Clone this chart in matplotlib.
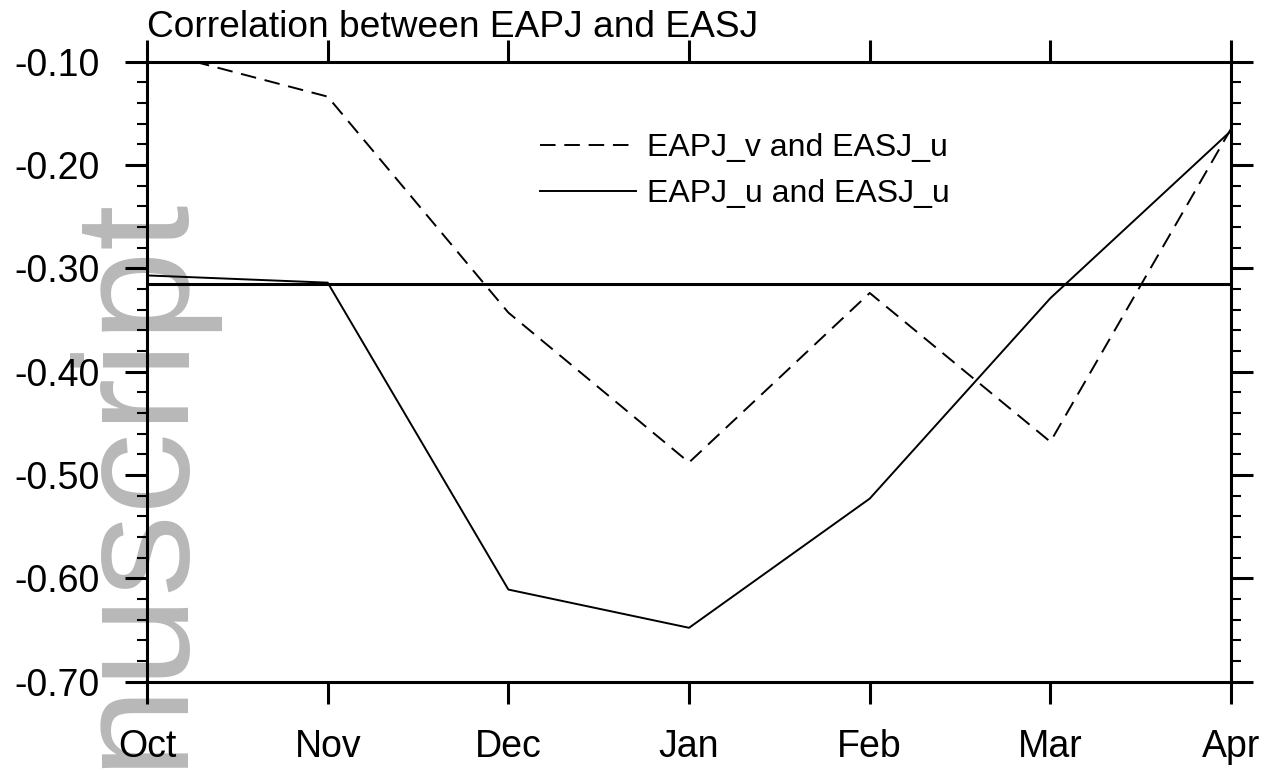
import numpy as np
import matplotlib
matplotlib.use('Agg')
import matplotlib.pyplot as plt
from matplotlib.ticker import MultipleLocator, FormatStrFormatter

plt.rcParams['font.family'] = ['Liberation Sans', 'DejaVu Sans']

# data
months = ['Oct', 'Nov', 'Dec', 'Jan', 'Feb', 'Mar', 'Apr']
corr_v_u = [-0.088, -0.134, -0.343, -0.488, -0.324, -0.468, -0.165]
corr_u_u = [-0.307, -0.314, -0.611, -0.648, -0.523, -0.329, -0.167]
sig_level = -0.315
title = 'Correlation between EAPJ and EASJ'
labels = ['EAPJ_v and EASJ_u', 'EAPJ_u and EASJ_u']

fig = plt.figure(figsize=(12.74, 7.70), dpi=100)
ax = fig.add_axes([0.1154, 0.1149, 0.8509, 0.8052])
ax.patch.set_visible(False)

x = np.arange(len(months))
l1, = ax.plot(x, corr_v_u, color='black', lw=1.4, dashes=(8, 4.5))
l2, = ax.plot(x, corr_u_u, color='black', lw=1.4)
ax.axhline(sig_level, color='black', lw=2.2)

ax.set_xlim(0, len(months) - 1)
ax.set_ylim(-0.70, -0.10)
ax.set_xticks(x)
ax.set_xticklabels(months)
ax.yaxis.set_major_locator(MultipleLocator(0.1))
ax.yaxis.set_minor_locator(MultipleLocator(0.02))
ax.yaxis.set_major_formatter(FormatStrFormatter('%.2f'))

for s in ax.spines.values():
    s.set_linewidth(2.2)

ax.tick_params(axis='both', which='major', direction='out', length=16, width=2.2,
               labelsize=27)
ax.tick_params(axis='y', which='minor', direction='out', length=7.5, width=1.5)
ax.tick_params(axis='x', top=True, labeltop=False, pad=18)
ax.tick_params(axis='y', which='both', right=True, labelright=False)
ax.tick_params(axis='y', which='major', pad=18)

fig.text(0.1154, 1 - 37 / 770, title, fontsize=26.7, ha='left', va='baseline')

ax.legend([l1, l2], labels, loc='upper left', bbox_to_anchor=(0.3626, 0.884),
          frameon=False, fontsize=23, handlelength=3.0, handletextpad=0.35,
          borderpad=0, borderaxespad=0, labelspacing=0.5)

# partial "Manuscript" watermark on the left edge
fig.text(176 / 1274, 1 - 190 / 770, 'Manuscript', rotation=90, rotation_mode='anchor',
         ha='right', va='baseline', fontsize=118, color='#b8b8b8', zorder=-1)

fig.savefig('out.png', dpi=100)
